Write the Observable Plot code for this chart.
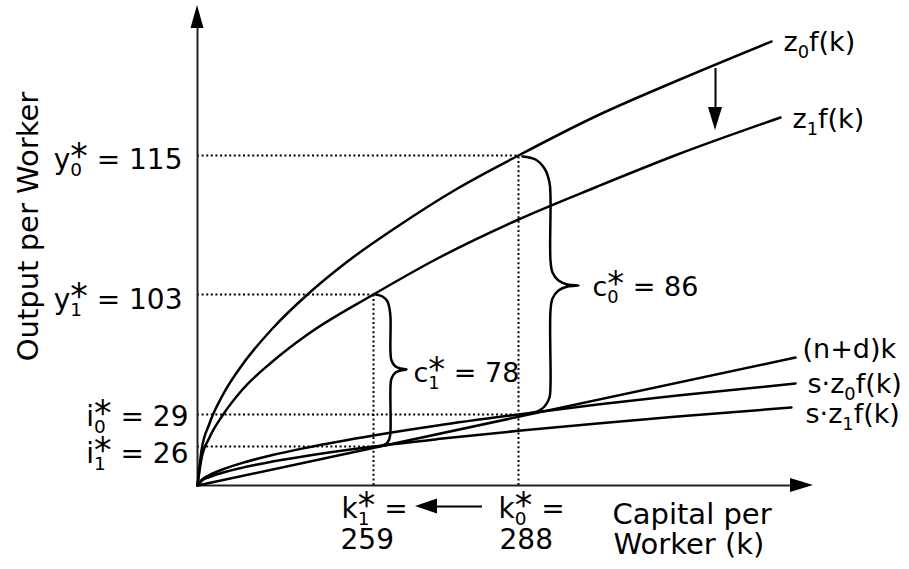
<!DOCTYPE html>
<html>
<head>
<meta charset="utf-8">
<script src="https://cdn.jsdelivr.net/npm/d3@7"></script>
<script src="https://cdn.jsdelivr.net/npm/@observablehq/plot@0.6"></script>
<style>
html,body{margin:0;padding:0;background:#fff;overflow:hidden;}
#chart svg{display:block;}
</style>
</head>
<body>
<div id="chart"></div>
<script>
// ---- Data (diagram units: capital per worker k along x, output per worker along y; not to scale) ----
const kZ0 = [0, 4, 12, 25, 45, 75, 110, 150, 200, 260, 321, 400, 480, 574];
const yZ0 = [0, 35, 62, 90, 121, 157, 191, 224, 259, 297, 330, 370, 405, 444];
const kZ1 = [0, 4, 12, 25, 45, 75, 110, 176, 240, 321, 400, 480, 583];
const yZ1 = [0, 27, 48, 70, 96, 124, 151, 191, 227, 266, 299, 331, 368];
const kLine = [0, 598];
const yLine = [0, 128];
const kSZ0 = [0, 4, 12, 25, 45, 75, 110, 176, 240, 321, 400, 480, 598];
const ySZ0 = [0, 5.5, 10.5, 16, 22.6, 30.5, 38, 50, 60, 71, 81, 90, 102];
const kSZ1 = [0, 4, 12, 25, 45, 75, 110, 176, 240, 321, 400, 480, 594];
const ySZ1 = [0, 4.5, 8.4, 12.8, 17.9, 23.9, 29.8, 39, 46.4, 54.7, 62, 69, 78];

// steady states: index 0 = z0, index 1 = z1
const kStarPos = [321, 176];
const yStarPos = [330, 191];
const iStarPos = [71, 39];
const kStarValue = [288, 259];
const yStarValue = [115, 103];
const iStarValue = [29, 26];
const cStarValue = [86, 78];

const curveNames = ["z_0f(k)", "z_1f(k)", "(n+d)k", "s·z_0f(k)", "s·z_1f(k)"];
const xTitle = ["Capital per", "Worker (k)"];
const yTitle = "Output per Worker";

// braces (consumption gaps)
const brace0 = [[325,329],[338,326],[347,317],[352,303],[353,288],[353,225],[355,213],[361,205],[370,201],[381,200],[370,199],[361,195],[355,187],[353,175],[353,100],[352,88],[347,79],[340,74],[330,72]];
const brace1 = [[178,191],[185,189],[190,184],[192,177],[193,168],[193,133],[194,125],[198,119],[203,117],[209,116],[203,115],[198,113],[194,107],[193,99],[193,55],[192,47],[189,42],[185,40],[180,39]];

// ---- Layout ----
const W = 909, H = 569, ML = 197, MB = 84;
const FONT = '"DejaVu Sans", Verdana, sans-serif';
const axisEnd = {x: 593, y: 457};
const ink = "#000";
const lineW = 2.5;
const dotted = {stroke: ink, strokeWidth: 2, strokeDasharray: "2 2.6"};

const toPts = (ks, vs) => ks.map((k, i) => ({k, v: vs[i]}));
const bracePts = b => b.map(([k, v]) => ({k, v}));
const eq = kStarPos.map((k, i) => ({k, y: yStarPos[i], inv: iStarPos[i]}));

// arrowheads (triangles drawn as areas)
const headUp = [{x: -6.5, b: axisEnd.y, t: axisEnd.y}, {x: 0, b: axisEnd.y, t: 480}, {x: 6.5, b: axisEnd.y, t: axisEnd.y}];
const headRight = [{y: -7, b: axisEnd.x, t: axisEnd.x}, {y: 0, b: axisEnd.x, t: 616}, {y: 7, b: axisEnd.x, t: axisEnd.x}];
const headDown = [{x: 511, b: 378, t: 378}, {x: 518, b: 378, t: 355}, {x: 525, b: 378, t: 378}];
const headLeft = [{y: -28.5, b: 240, t: 240}, {y: -21, b: 240, t: 218}, {y: -13.5, b: 240, t: 240}];

const leftLabels = [
  {x: -15, y: yStarPos[0] - 13, text: `y_0^* = ${yStarValue[0]}`},
  {x: -15, y: yStarPos[1] - 14, text: `y_1^* = ${yStarValue[1]}`},
  {x: -9, y: iStarPos[0] - 11, text: `i_0^* = ${iStarValue[0]}`},
  {x: -9, y: iStarPos[1] - 16, text: `i_1^* = ${iStarValue[1]}`}
];
const bottomLabels = [
  {x: kStarPos[1] - 32, y: -32, text: "k_1^* ="},
  {x: kStarPos[1] - 33, y: -63, text: `${kStarValue[1]}`},
  {x: kStarPos[0] - 20, y: -32, text: "k_0^* ="},
  {x: kStarPos[0] - 19, y: -63, text: `${kStarValue[0]}`}
];
const cLabels = [
  {x: 395, y: 190, text: `c_0^* = ${cStarValue[0]}`},
  {x: 216, y: 104, text: `c_1^* = ${cStarValue[1]}`}
];
const curveLabels = [
  {x: 586, y: 435, text: curveNames[0]},
  {x: 595, y: 358, text: curveNames[1]},
  {x: 605, y: 128, text: curveNames[2]},
  {x: 610, y: 93, text: curveNames[3]},
  {x: 608, y: 63, text: curveNames[4]}
];
const xTitleLabels = [
  {x: 415, y: -38, text: xTitle[0]},
  {x: 416, y: -68, text: xTitle[1]}
];

const curveOpts = {x: "k", y: "v", curve: "monotone-x", stroke: ink, strokeWidth: lineW, strokeLinecap: "round"};
const braceOpts = {x: "k", y: "v", curve: "catmull-rom", stroke: ink, strokeWidth: lineW, strokeLinecap: "round"};

const chart = Plot.plot({
  width: W, height: H,
  marginLeft: ML, marginRight: 0, marginTop: 0, marginBottom: MB,
  x: {domain: [0, W - ML], axis: null},
  y: {domain: [0, H - MB], axis: null},
  style: {fontFamily: FONT, background: "#fff", color: ink},
  marks: [
    // dotted guide lines
    Plot.ruleY(eq, {y: "y", x1: () => 0, x2: "k", ...dotted}),
    Plot.ruleY(eq, {y: "inv", x1: () => 0, x2: "k", ...dotted}),
    Plot.ruleX(eq, {x: "k", y1: () => 0, y2: "y", ...dotted}),
    // axes
    Plot.ruleX([0], {x: d => d, y1: () => 0, y2: () => axisEnd.y + 2, stroke: "#222", strokeWidth: 2}),
    Plot.ruleY([0], {y: d => d, x1: () => 0, x2: () => axisEnd.x + 2, stroke: "#222", strokeWidth: 2}),
    Plot.areaY(headUp, {x: "x", y1: "b", y2: "t", fill: ink}),
    Plot.areaX(headRight, {y: "y", x1: "b", x2: "t", fill: ink}),
    // curves
    Plot.line(toPts(kZ0, yZ0), curveOpts),
    Plot.line(toPts(kZ1, yZ1), curveOpts),
    Plot.line(toPts(kLine, yLine), curveOpts),
    Plot.line(toPts(kSZ0, ySZ0), curveOpts),
    Plot.line(toPts(kSZ1, ySZ1), curveOpts),
    // braces
    Plot.line(bracePts(brace0), braceOpts),
    Plot.line(bracePts(brace1), braceOpts),
    // shift arrows
    Plot.ruleX([518], {x: d => d, y1: () => 417, y2: () => 376, stroke: ink, strokeWidth: 2}),
    Plot.areaY(headDown, {x: "x", y1: "b", y2: "t", fill: ink}),
    Plot.ruleY([-21], {y: d => d, x1: () => 285, x2: () => 238, stroke: ink, strokeWidth: 2}),
    Plot.areaX(headLeft, {y: "y", x1: "b", x2: "t", fill: ink}),
    // labels
    Plot.text(leftLabels, {x: "x", y: "y", text: "text", textAnchor: "end", lineAnchor: "bottom", fontSize: 28, fill: ink}),
    Plot.text(bottomLabels, {x: "x", y: "y", text: "text", textAnchor: "start", lineAnchor: "bottom", fontSize: 28, fill: ink}),
    Plot.text(cLabels, {x: "x", y: "y", text: "text", textAnchor: "start", lineAnchor: "bottom", fontSize: 27, fill: ink}),
    Plot.text(curveLabels, {x: "x", y: "y", text: "text", textAnchor: "start", lineAnchor: "bottom", fontSize: 27, fill: ink}),
    Plot.text(xTitleLabels, {x: "x", y: "y", text: "text", textAnchor: "start", lineAnchor: "bottom", fontSize: 29, fill: ink}),
    Plot.text([yTitle], {x: () => -160, y: () => 259, text: d => d, rotate: -90, textAnchor: "middle", lineAnchor: "bottom", fontSize: 29, fill: ink})
  ]
});

// turn "_d" into subscripts and "^*" into a star stacked above the subscript
function richText(svg) {
  const NS = "http://www.w3.org/2000/svg";
  svg.querySelectorAll("text").forEach(t => {
    const s = t.textContent;
    if (!/[_^]/.test(s)) return;
    const holder = t.closest("[font-size]");
    const fs = holder ? parseFloat(holder.getAttribute("font-size")) : 27;
    t.textContent = "";
    let cur = 0, subW = 0, buf = "";
    const add = (str, o = {}) => {
      const sp = document.createElementNS(NS, "tspan");
      sp.textContent = str;
      const target = o.shift || 0;
      if (target !== cur) sp.setAttribute("dy", (target - cur).toFixed(2));
      cur = target;
      if (o.size) sp.setAttribute("font-size", o.size.toFixed(2));
      if (o.dx) sp.setAttribute("dx", o.dx.toFixed(2));
      t.appendChild(sp);
    };
    for (let i = 0; i < s.length; i++) {
      const c = s[i];
      if (c === "_") {
        if (buf) { add(buf); buf = ""; }
        const size = 0.66 * fs;
        add(s[i + 1], {shift: 0.27 * fs, size});
        subW = 0.636 * size;
        i++;
      } else if (c === "^") {
        if (buf) { add(buf); buf = ""; }
        add(s[i + 1], {shift: -0.02 * fs, size: 1.25 * fs, dx: -subW});
        i++;
      } else buf += c;
    }
    if (buf) add(buf);
  });
}
richText(chart);
document.getElementById("chart").appendChild(chart);
</script>
</body>
</html>
